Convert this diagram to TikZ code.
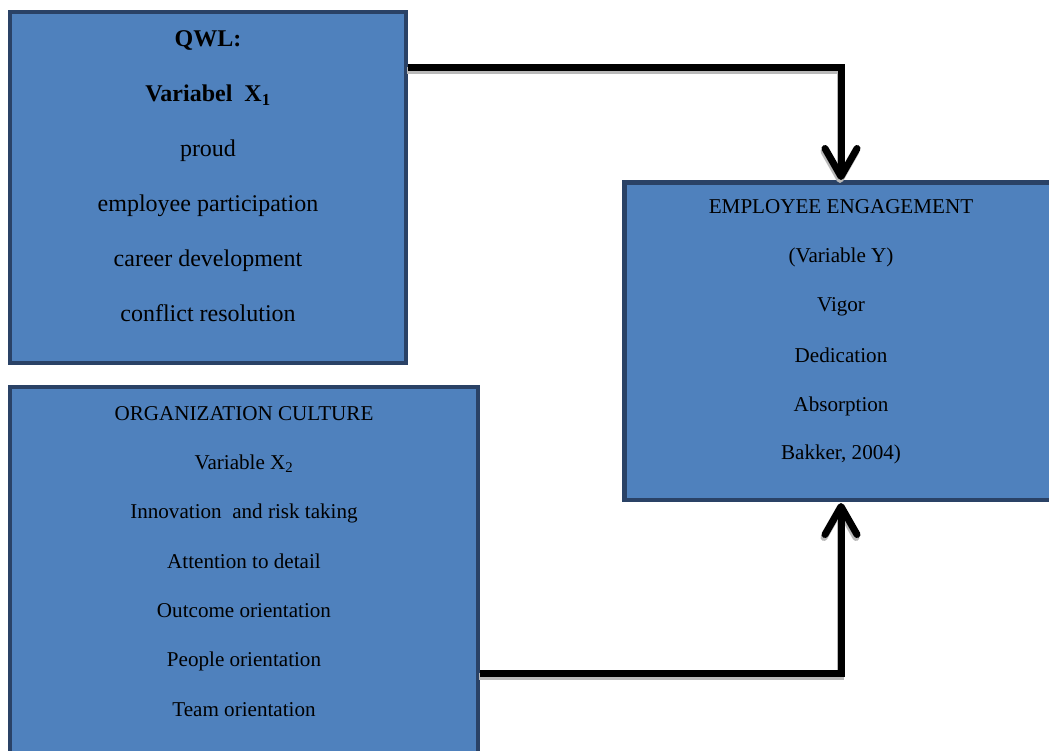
\documentclass[tikz,border=0pt]{standalone}
\usepackage{fontspec}
\setmainfont{Liberation Serif}
\usetikzlibrary{arrows.meta}
\definecolor{boxfill}{HTML}{4F81BD}
\definecolor{boxline}{HTML}{2A4266}
\tikzset{
  varbox/.style={draw=boxline, line width=4.5pt, fill=boxfill},
  bigtxt/.style={font=\fontsize{24}{26}\selectfont, text=black, inner sep=0pt, anchor=base},
  smalltxt/.style={font=\fontsize{21.1}{23}\selectfont, text=black, inner sep=0pt, anchor=base},
  conn/.style={line width=7pt, black, line cap=butt, line join=miter,
    -{Straight Barb[length=28pt, width=32pt, round]},
    preaction={draw=gray!55, line width=7pt, transform canvas={shift={(-1pt,-3pt)}}}}
}
\begin{document}
\begin{tikzpicture}[x=1pt,y=-1pt]
\useasboundingbox (0,0) rectangle (1049,751);
% boxes
\draw[varbox] (10,12) rectangle (406,363);
\node (q) at (208,187.5) [minimum width=396pt, minimum height=351pt, inner sep=0pt] {};
\draw[varbox] (10,387) rectangle (478,780);
\node (o) at (244,583) [minimum width=468pt, minimum height=393pt, inner sep=0pt] {};
\draw[varbox] (624.5,182.5) rectangle (1058,500);
\node (e) at (841,341) [minimum width=433pt, minimum height=317pt, inner sep=0pt] {};
% box 1 text
\node[bigtxt] (q1) at (208,47) {\textbf{QWL:}};
\node[bigtxt] (q2) at (208,102) {\textbf{Variabel\ \ X\textsubscript{1}}};
\node[bigtxt] (q3) at (208,157) {proud};
\node[bigtxt] (q4) at (208,212) {employee participation};
\node[bigtxt] (q5) at (208,267) {career development};
\node[bigtxt] (q6) at (208,321) {conflict resolution};
% box 2 text
\node[smalltxt] (o1) at (244,420) {ORGANIZATION CULTURE};
\node[smalltxt] (o2) at (244,469) {Variable X\textsubscript{2}};
\node[smalltxt] (o3) at (244,518) {Innovation\ \ and risk taking};
\node[smalltxt] (o4) at (244,568) {Attention to detail};
\node[smalltxt] (o5) at (244,617) {Outcome orientation};
\node[smalltxt] (o6) at (244,666) {People orientation};
\node[smalltxt] (o7) at (244,716) {Team orientation};
% box 3 text
\node[smalltxt] (e1) at (841,214) {EMPLOYEE ENGAGEMENT};
\node[smalltxt] (e2) at (841,263) {(Variable Y)};
\node[smalltxt] (e3) at (841,312) {Vigor};
\node[smalltxt] (e4) at (841,362) {Dedication};
\node[smalltxt] (e5) at (841,411) {Absorption};
\node[smalltxt] (e6) at (841,459) {Bakker, 2004)};
% connectors
\coordinate (a1) at (408,68);
\coordinate (a2) at (480,673);
\coordinate (t1) at (841,180);
\coordinate (t2) at (841,503);
\draw[conn] (a1) -| (t1);
\draw[conn] (a2) -| (t2);
\end{tikzpicture}
\end{document}
